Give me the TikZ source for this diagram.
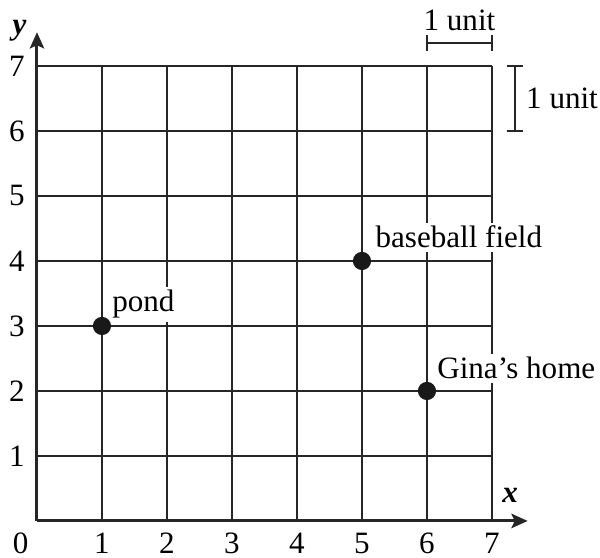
\documentclass[tikz,border=0pt]{standalone}
\usepackage{fontspec}
\setmainfont{Liberation Serif}
\usetikzlibrary{arrows.meta}
\begin{document}
\begin{tikzpicture}[x=1cm,y=1cm,
  gridline/.style={line width=1.2pt,black!85},
  axisline/.style={line width=1.3pt,black!85,-{Stealth[length=0.25cm,width=0.22cm,inset=0.05cm]}},
  lbl/.style={font=\fontsize{13.6}{15}\selectfont,inner sep=0pt},
  place/.style={font=\fontsize{13.6}{15}\selectfont,fill=white,inner sep=1.5pt,anchor=base west},
  dot/.style={circle,fill=black!90,minimum size=0.28cm,inner sep=0pt},
  bar/.style={line width=1.2pt,black!85}]
\useasboundingbox (-0.569,-0.569) rectangle (8.662,8.015);
% grid
\foreach \i in {1,...,7} {
  \draw[gridline] (\i,0) -- (\i,7);
  \draw[gridline] (0,\i) -- (7,\i);
}
% axes
\coordinate (O) at (0,0);
\coordinate (xend) at (7.55,0);
\coordinate (yend) at (0,7.52);
\draw[axisline] (O) -- (xend);
\draw[axisline] (O) -- (yend);
\node[lbl,anchor=base,font=\fontsize{13.6}{15}\selectfont\bfseries\itshape] (ylab) at (-0.27,7.48) {y};
\node[lbl,anchor=base,font=\fontsize{13.6}{15}\selectfont\bfseries\itshape] (xlab) at (7.28,0.28) {x};
% tick labels
\node[lbl] (x0) at (-0.25,-0.35) {0};
\foreach \i in {1,...,7} {
  \node[lbl] (x\i) at (\i,-0.35) {\i};
  \node[lbl] (y\i) at (-0.31,\i) {\i};
}
% places
\node[place] (pondl) at (1.10,3.215) {pond};
\node[place] (basel) at (5.15,4.2) {baseball field};
\node[place] (ginal) at (6.10,2.185) {Gina’s home};
\node[dot] (pond) at (1,3) {};
\node[dot] (base) at (5,4) {};
\node[dot] (gina) at (6,2) {};
% scale bars
\coordinate (h1) at (6,7.354);
\coordinate (h2) at (7,7.354);
\draw[bar] (h1) -- (h2);
\draw[bar] ([yshift=-0.13cm]h1) -- ([yshift=0.13cm]h1);
\draw[bar] ([yshift=-0.13cm]h2) -- ([yshift=0.13cm]h2);
\node[lbl,anchor=base] (hunit) at (6.5,7.55) {1 unit};
\coordinate (v1) at (7.354,6);
\coordinate (v2) at (7.354,7);
\draw[bar] (v1) -- (v2);
\draw[bar] ([xshift=-0.13cm]v1) -- ([xshift=0.13cm]v1);
\draw[bar] ([xshift=-0.13cm]v2) -- ([xshift=0.13cm]v2);
\node[lbl,anchor=base west] (vunit) at (7.52,6.35) {1 unit};
\end{tikzpicture}
\end{document}
